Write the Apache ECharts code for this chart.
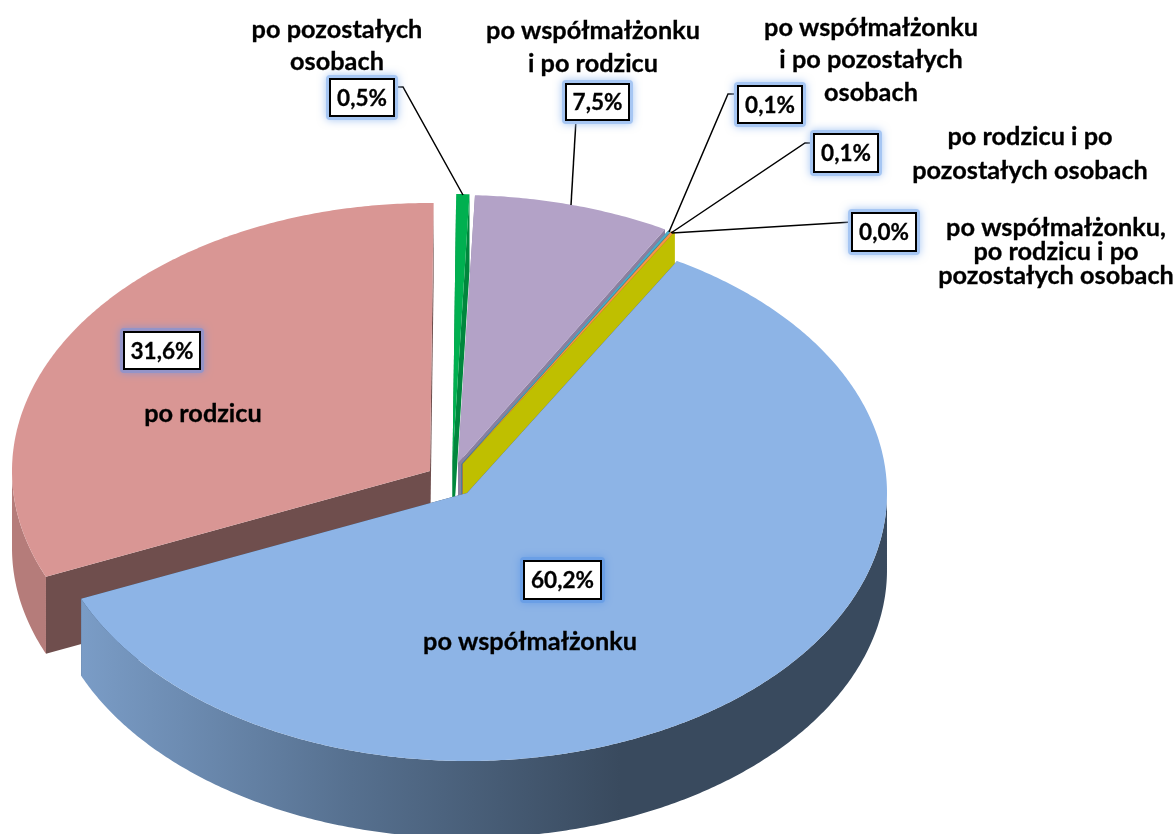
<!DOCTYPE html>
<html><head><meta charset="utf-8">
<style>html,body{margin:0;padding:0;background:#fff}#c{width:1176px;height:834px}</style>
<script src="https://cdn.jsdelivr.net/npm/echarts@6/dist/echarts.min.js"></script>
</head><body><div id="c"></div>
<script>
// DATA (clockwise from the top of the pie)
var categories = ['po pozostałych osobach','po współmałżonku i po rodzicu','po współmałżonku i po pozostałych osobach','po rodzicu i po pozostałych osobach','po współmałżonku, po rodzicu i po pozostałych osobach','po współmałżonku','po rodzicu'];
var values = [0.5, 7.5, 0.1, 0.1, 0.0, 60.2, 31.6];
var valueLabels = ['0,5%','7,5%','0,1%','0,1%','0,0%','60,2%','31,6%'];

// LAYOUT AND STYLE
var RY = 268, DEPTH = 77, START = 89.5;
var radiusX = [423,423,423,423,423,420,418];
var apex = [[452.5,462],[458,463],[461.5,464],[462.5,464],[463,464],[467,493],[430,471]];
var paint = [1,2,3,4,5,7,6];
var topColor = ['#00b050','#b3a2c7','#4bacc6','#f79646','#bfbf00','#8db4e6','#d99694'];
var cutColor = ['#00873d','#8a7fa0','#3a8498','#bd7236','#bfbf00','#3b4d63','#6f4e4d'];
var G = echarts.graphic;
var rimColor = ['#00873d','#8a7fa0','#3a8498','#bd7236','#bfbf00',
  new G.LinearGradient(83,0,620,0,[{offset:0,color:'#7a9cc6'},{offset:0.5,color:'#56708f'},{offset:1,color:'#394a5e'}],true),
  '#b57c7a'];
var nameLines = [
  {t:['po pozostałych','osobach'],x:337,y:[30,62]},
  {t:['po współmałżonku','i po rodzicu'],x:593,y:[31,64]},
  {t:['po współmałżonku','i po pozostałych','osobach'],x:871,y:[28,60,93]},
  {t:['po rodzicu i po','pozostałych osobach'],x:1030,y:[137,171]},
  {t:['po współmałżonku,','po rodzicu i po','pozostałych osobach'],x:1056,y:[228,252,276]},
  {t:['po współmałżonku'],x:530,y:[642]},
  {t:['po rodzicu'],x:203,y:[414]}
];
var boxes = [[330,79,64,37],[566,84,63,36],[738,86,64,37],[814,134,64,38],[852,213,64,38],[524,561,77,38],[124,332,76,37]];
var leaders = [
  [[394,87],[403,87],[463,195]],
  [[576,120],[571,205]],
  [[738,94],[728,94],[669,232]],
  [[814,143],[805,143],[671,233]],
  [[852,222],[672,233]],
  null,null
];
var glow = ['#a6c6f3','#a6c6f3','#a6c6f3','#a6c6f3','#a6c6f3','#6a9fe6','#9494c8'];
var FONT = '"Lato",sans-serif';

var total = values.reduce(function(a,b){return a+b;},0);
function angleRange(i){
  var s = 0; for (var k=0;k<i;k++) s += values[k];
  var a0 = START - s/total*360, a1 = a0 - values[i]/total*360;
  return [a0,a1];
}
function pt(i,deg,drop){
  var r = deg*Math.PI/180;
  return [apex[i][0]+radiusX[i]*Math.cos(r), apex[i][1]-RY*Math.sin(r)+(drop||0)];
}
function renderSlice(params, api){
  var i = params.dataIndex, v = api.value(0);
  var ang = angleRange(i), a0 = ang[0], a1 = ang[1], z = paint[i]*10, kids = [];
  var ax = apex[i];
  function poly(points, fill, dz){
    kids.push({type:'polygon',z2:z+dz,shape:{points:points},silent:true,
      style:{fill:fill,stroke:null}});
  }
  [a1,a0].forEach(function(a){
    var o = pt(i,a,0);
    poly([ax,o,[o[0],o[1]+DEPTH],[ax[0],ax[1]+DEPTH]],cutColor[i],0);
  });
  var rim = [], back = [], n = Math.max(2,Math.ceil((a0-a1)*2));
  for (var k=0;k<=n;k++){
    var a = a0+(a1-a0)*k/n, s = Math.sin(a*Math.PI/180);
    if (s<=0.001){ var p = pt(i,a,0); rim.push(p); back.unshift([p[0],p[1]+DEPTH]); }
  }
  if (rim.length>1) poly(rim.concat(back),rimColor[i],1);
  if (v>0){
    var top = [ax];
    for (var m=0;m<=n;m++) top.push(pt(i,a0+(a1-a0)*m/n,0));
    poly(top,topColor[i],2);
  }
  return {type:'group',children:kids};
}
function renderLabel(params, api){
  var i = params.dataIndex, kids = [], b = boxes[i], nl = nameLines[i];
  if (leaders[i]) kids.push({type:'polyline',z2:1000,silent:true,shape:{points:leaders[i]},
    style:{stroke:'#000',lineWidth:1.5,fill:null}});
  kids.push({type:'rect',z2:1001,silent:true,shape:{x:b[0]-4,y:b[1]-4,width:b[2]+8,height:b[3]+8,r:4},
    style:{fill:glow[i],shadowBlur:9,shadowColor:glow[i]}});
  kids.push({type:'rect',z2:1002,silent:true,shape:{x:b[0],y:b[1],width:b[2],height:b[3]},
    style:{fill:'#fff',stroke:'#000',lineWidth:2}});
  kids.push({type:'text',z2:1003,silent:true,style:{x:b[0]+b[2]/2,y:b[1]+b[3]/2+1,text:valueLabels[i],
    fill:'#000',stroke:'#000',lineWidth:0.3,font:'bold 22.5px '+FONT,align:'center',verticalAlign:'middle'}});
  nl.t.forEach(function(t,j){
    kids.push({type:'text',z2:1003,silent:true,style:{x:nl.x,y:nl.y[j],text:t,fill:'#000',stroke:'#000',lineWidth:0.3,
      font:'bold 25.3px '+FONT,align:'center',verticalAlign:'middle'}});
  });
  return {type:'group',children:kids};
}
var rows = categories.map(function(c,i){return {name:c,value:[values[i]]};});
var chart = echarts.init(document.getElementById('c'),null,{renderer:'canvas'});
chart.setOption({
  animation:false,
  backgroundColor:'#fff',
  series:[
    {type:'custom',name:'slices',coordinateSystem:'none',renderItem:renderSlice,data:rows,silent:true,clip:false,z:2},
    {type:'custom',name:'labels',coordinateSystem:'none',renderItem:renderLabel,data:rows,silent:true,clip:false,z:3}
  ]
});
</script></body></html>
